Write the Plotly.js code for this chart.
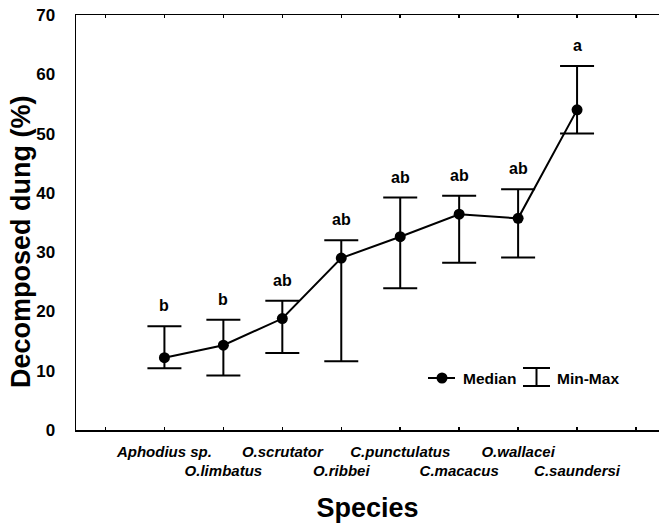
<!DOCTYPE html>
<html>
<head>
<meta charset="utf-8">
<script src="https://cdn.plot.ly/plotly-3.0.1.min.js"></script>
<style>html,body{margin:0;padding:0;background:#fff;}#chart{width:659px;height:526px;}</style>
</head>
<body>
<div id="chart"></div>
<script>
const species = ['Aphodius sp.', 'O.limbatus', 'O.scrutator', 'O.ribbei', 'C.punctulatus', 'C.macacus', 'O.wallacei', 'C.saundersi'];
const medianValues = [12.2, 14.3, 18.8, 29.0, 32.6, 36.4, 35.7, 54.0];
const minValues = [10.4, 9.2, 13.0, 11.6, 23.9, 28.2, 29.1, 50.0];
const maxValues = [17.5, 18.6, 21.8, 32.0, 39.2, 39.5, 40.6, 61.4];
const groupLetters = ['b', 'b', 'ab', 'ab', 'ab', 'ab', 'ab', 'a'];
const yTicks = [0, 10, 20, 30, 40, 50, 60, 70];
const yTitle = 'Decomposed dung (%)';
const xTitle = 'Species';

const FONT = '"Liberation Sans", Arial, Helvetica, sans-serif';
const xPos = species.map((s, i) => i + 1);
const tickVals = [0].concat(xPos, [species.length + 1]);
const tickText = [''].concat(species.map((s, i) => (i % 2 === 1 ? '<br>' : '') + s), ['']);

const trace = {
  x: xPos,
  y: medianValues,
  type: 'scatter',
  mode: 'lines+markers',
  line: {color: '#000', width: 2},
  marker: {color: '#000', size: 11},
  error_y: {
    type: 'data',
    symmetric: false,
    array: maxValues.map((v, i) => v - medianValues[i]),
    arrayminus: minValues.map((v, i) => medianValues[i] - v),
    color: '#000',
    thickness: 2,
    width: 17
  },
  showlegend: false,
  hoverinfo: 'skip'
};

const L = 76, W = 583, T = 15, H = 415;
const px = x => (x - L) / W;
const py = y => (T + H - y) / H;

const annotations = groupLetters.map((t, i) => ({
  x: xPos[i], y: maxValues[i], xref: 'x', yref: 'y',
  text: t, showarrow: false, yanchor: 'bottom', yshift: 10,
  font: {family: FONT, size: 16, color: '#000', weight: 'bold'}
}));
annotations.push({
  x: px(461), y: py(378), xref: 'paper', yref: 'paper', text: 'Median', showarrow: false,
  xanchor: 'left', yanchor: 'middle', font: {family: FONT, size: 15.5, color: '#000', weight: 'bold'}
});
annotations.push({
  x: px(555), y: py(378), xref: 'paper', yref: 'paper', text: 'Min-Max', showarrow: false,
  xanchor: 'left', yanchor: 'middle', font: {family: FONT, size: 15.5, color: '#000', weight: 'bold'}
});
// y-axis title, drawn as rotated text
annotations.push({
  x: px(21), y: py(242), xref: 'paper', yref: 'paper', text: yTitle, showarrow: false,
  textangle: -90, xanchor: 'center', yanchor: 'middle',
  font: {family: FONT, size: 27, color: '#000', weight: 'bold'}
});

const shapes = [
  {type: 'line', xref: 'paper', yref: 'paper', x0: px(428), x1: px(455), y0: py(378), y1: py(378), line: {color: '#000', width: 2}},
  {type: 'circle', xref: 'paper', yref: 'paper', x0: px(436.5), x1: px(447.5), y0: py(372.5), y1: py(383.5), fillcolor: '#000', line: {color: '#000', width: 0}},
  {type: 'line', xref: 'paper', yref: 'paper', x0: px(536.5), x1: px(536.5), y0: py(368), y1: py(386), line: {color: '#000', width: 2}},
  {type: 'line', xref: 'paper', yref: 'paper', x0: px(523), x1: px(550), y0: py(368), y1: py(368), line: {color: '#000', width: 2}},
  {type: 'line', xref: 'paper', yref: 'paper', x0: px(523), x1: px(550), y0: py(386), y1: py(386), line: {color: '#000', width: 2}}
];

const layout = {
  width: 659, height: 526,
  margin: {l: L, r: 0, t: T, b: 96, pad: 0},
  paper_bgcolor: '#fff', plot_bgcolor: '#fff',
  font: {family: FONT, color: '#000'},
  xaxis: {
    range: [-0.5, 9.39],
    tickmode: 'array', tickvals: tickVals, ticktext: tickText, tickangle: 0,
    ticks: 'inside', ticklen: 3, tickwidth: 1.5, tickcolor: '#000',
    showline: true, linecolor: '#000', linewidth: 1.5, mirror: 'ticks',
    showgrid: false, zeroline: false,
    tickfont: {family: FONT, size: 15, color: '#000', weight: 'bold', style: 'italic'},
    ticklabelstandoff: 7,
    title: {text: xTitle, font: {family: FONT, size: 27, color: '#000', weight: 'bold'}, standoff: 20},
    automargin: false, fixedrange: true
  },
  yaxis: {
    range: [0, 70],
    tickmode: 'array', tickvals: yTicks, ticktext: yTicks.map(String),
    ticks: '', showline: true, linecolor: '#000', linewidth: 1.5,
    showgrid: false, zeroline: false,
    tickfont: {family: FONT, size: 17, color: '#000', weight: 'bold'},
    ticklabelstandoff: 16,
    automargin: false, fixedrange: true
  },
  annotations: annotations,
  shapes: shapes
};

Plotly.newPlot('chart', [trace], layout, {staticPlot: true, displayModeBar: false});
</script>
</body>
</html>
